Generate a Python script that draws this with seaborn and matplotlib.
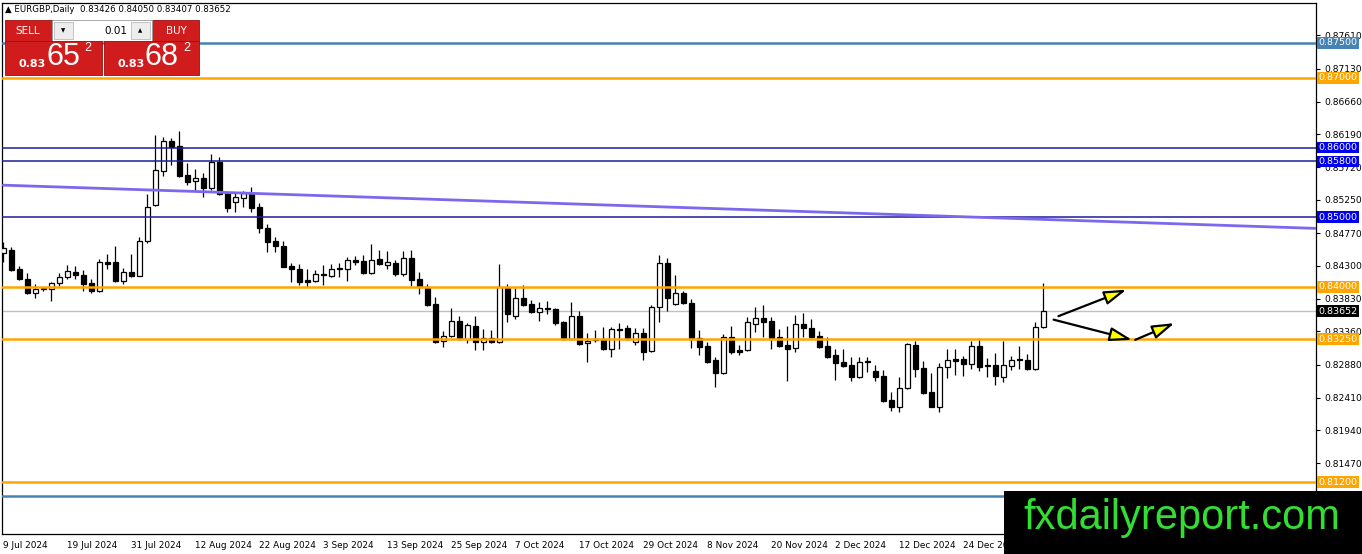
import matplotlib
matplotlib.use("Agg")
import matplotlib.pyplot as plt
from matplotlib.patches import Rectangle
import numpy as np
import pandas as pd
import seaborn as sns

sns.set_theme(style="white")
plt.rcParams['font.family'] = ['DejaVu Sans']

# EURGBP daily bars, 9 Jul 2024 .. 7 Jan 2025
opens = [0.8449, 0.8453, 0.8426, 0.8411, 0.8391, 0.8397, 0.8397, 0.8406, 0.8414, 0.8421,
         0.8417, 0.8406, 0.8394, 0.8436, 0.8436, 0.8408, 0.8421, 0.8416, 0.8466, 0.8518,
         0.8566, 0.8609, 0.8602, 0.8561, 0.8552, 0.8556, 0.8542, 0.8579, 0.8535, 0.8522,
         0.8528, 0.8535, 0.8515, 0.8485, 0.8466, 0.8459, 0.8430, 0.8426, 0.8410, 0.8408,
         0.8418, 0.8416, 0.8426, 0.8426, 0.8439, 0.8437, 0.8420, 0.8440, 0.8431, 0.8434,
         0.8418, 0.8442, 0.8411, 0.8400, 0.8375, 0.8322, 0.8330, 0.8351, 0.8325, 0.8344,
         0.8321, 0.8327, 0.8321, 0.8398, 0.8358, 0.8384, 0.8375, 0.8364, 0.8370, 0.8368,
         0.8350, 0.8325, 0.8358, 0.8320, 0.8324, 0.8325, 0.8311, 0.8340, 0.8341, 0.8321,
         0.8334, 0.8308, 0.8371, 0.8434, 0.8375, 0.8391, 0.8377, 0.8327, 0.8315, 0.8295,
         0.8276, 0.8328, 0.8309, 0.8309, 0.8347, 0.8355, 0.8351, 0.8328, 0.8317, 0.8312,
         0.8347, 0.8341, 0.8330, 0.8315, 0.8302, 0.8292, 0.8288, 0.8271, 0.8292, 0.8279,
         0.8272, 0.8238, 0.8228, 0.8255, 0.8317, 0.8284, 0.8249, 0.8228, 0.8285, 0.8297,
         0.8297, 0.8289, 0.8315, 0.8286, 0.8288, 0.8271, 0.8286, 0.8295, 0.8295, 0.8282,
         0.83426]
highs = [0.8464, 0.8457, 0.8430, 0.8420, 0.8404, 0.8400, 0.8407, 0.8420, 0.8431, 0.8430,
         0.8424, 0.8411, 0.8440, 0.8447, 0.8459, 0.8427, 0.8447, 0.8472, 0.8533, 0.8618,
         0.8615, 0.8614, 0.8624, 0.8578, 0.8569, 0.8563, 0.8591, 0.8586, 0.8536, 0.8535,
         0.8538, 0.8543, 0.8520, 0.8490, 0.8472, 0.8466, 0.8434, 0.8433, 0.8426, 0.8424,
         0.8431, 0.8433, 0.8434, 0.8443, 0.8444, 0.8446, 0.8462, 0.8453, 0.8452, 0.8439,
         0.8452, 0.8453, 0.8421, 0.8404, 0.8386, 0.8337, 0.8370, 0.8358, 0.8348, 0.8358,
         0.8340, 0.8338, 0.8433, 0.8404, 0.8398, 0.8403, 0.8381, 0.8378, 0.8380, 0.8370,
         0.8351, 0.8378, 0.8365, 0.8334, 0.8338, 0.8342, 0.8342, 0.8348, 0.8345, 0.8341,
         0.8341, 0.8374, 0.8446, 0.8442, 0.8417, 0.8394, 0.8383, 0.8338, 0.8321, 0.8299,
         0.8332, 0.8344, 0.8317, 0.8357, 0.8371, 0.8374, 0.8357, 0.8340, 0.8344, 0.8360,
         0.8363, 0.8354, 0.8337, 0.8328, 0.8311, 0.8311, 0.8299, 0.8299, 0.8299, 0.8288,
         0.8281, 0.8249, 0.8271, 0.8320, 0.8322, 0.8294, 0.8276, 0.8291, 0.8311, 0.8311,
         0.8301, 0.8322, 0.8327, 0.8298, 0.8305, 0.8322, 0.8301, 0.8315, 0.8304, 0.8350,
         0.84050]
lows = [0.8436, 0.8423, 0.8410, 0.8390, 0.8384, 0.8394, 0.8380, 0.8401, 0.8411, 0.8411,
        0.8394, 0.8391, 0.8393, 0.8426, 0.8407, 0.8404, 0.8414, 0.8415, 0.8463, 0.8516,
        0.8559, 0.8575, 0.8558, 0.8546, 0.8538, 0.8529, 0.8539, 0.8532, 0.8508, 0.8508,
        0.8515, 0.8508, 0.8477, 0.8450, 0.8450, 0.8428, 0.8407, 0.8403, 0.8400, 0.8407,
        0.8403, 0.8414, 0.8414, 0.8408, 0.8431, 0.8419, 0.8418, 0.8431, 0.8426, 0.8416,
        0.8416, 0.8401, 0.8390, 0.8373, 0.8320, 0.8314, 0.8328, 0.8324, 0.8320, 0.8309,
        0.8309, 0.8320, 0.8320, 0.8350, 0.8354, 0.8373, 0.8363, 0.8351, 0.8361, 0.8345,
        0.8324, 0.8324, 0.8317, 0.8292, 0.8321, 0.8309, 0.8299, 0.8311, 0.8324, 0.8317,
        0.8295, 0.8307, 0.8350, 0.8365, 0.8374, 0.8375, 0.8312, 0.8302, 0.8291, 0.8256,
        0.8275, 0.8304, 0.8302, 0.8308, 0.8335, 0.8328, 0.8311, 0.8314, 0.8265, 0.8307,
        0.8328, 0.8327, 0.8312, 0.8298, 0.8266, 0.8285, 0.8265, 0.8269, 0.8278, 0.8265,
        0.8235, 0.8222, 0.8220, 0.8253, 0.8271, 0.8246, 0.8227, 0.8220, 0.8269, 0.8274,
        0.8272, 0.8282, 0.8279, 0.8271, 0.8259, 0.8263, 0.8281, 0.8282, 0.8281, 0.8281,
        0.83407]
closes = [0.8456, 0.8424, 0.8411, 0.8391, 0.8397, 0.8398, 0.8406, 0.8414, 0.8423, 0.8417,
          0.8404, 0.8394, 0.8436, 0.8433, 0.8408, 0.8421, 0.8416, 0.8466, 0.8515, 0.8568,
          0.8609, 0.8601, 0.8559, 0.8551, 0.8556, 0.8542, 0.8579, 0.8533, 0.8513, 0.8529,
          0.8535, 0.8513, 0.8485, 0.8464, 0.8459, 0.8429, 0.8426, 0.8407, 0.8407, 0.8418,
          0.8417, 0.8426, 0.8427, 0.8439, 0.8436, 0.8420, 0.8439, 0.8433, 0.8436, 0.8418,
          0.8442, 0.8410, 0.8400, 0.8374, 0.8321, 0.8330, 0.8351, 0.8325, 0.8345, 0.8321,
          0.8327, 0.8321, 0.8400, 0.8361, 0.8384, 0.8374, 0.8364, 0.8370, 0.8368, 0.8348,
          0.8325, 0.8358, 0.8318, 0.8322, 0.8325, 0.8311, 0.8340, 0.8338, 0.8325, 0.8334,
          0.8307, 0.8371, 0.8434, 0.8384, 0.8391, 0.8377, 0.8325, 0.8314, 0.8292, 0.8276,
          0.8328, 0.8307, 0.8307, 0.8350, 0.8355, 0.8350, 0.8327, 0.8315, 0.8311, 0.8347,
          0.8341, 0.8328, 0.8314, 0.8299, 0.8291, 0.8286, 0.8271, 0.8292, 0.8294, 0.8271,
          0.8236, 0.8228, 0.8255, 0.8318, 0.8282, 0.8248, 0.8228, 0.8285, 0.8295, 0.8294,
          0.8289, 0.8315, 0.8285, 0.8288, 0.8272, 0.8288, 0.8295, 0.8297, 0.8282, 0.8342,
          0.83652]

dates = pd.bdate_range("2024-07-09", periods=len(closes))

# horizontal levels drawn on the chart
levels = [0.8750, 0.8700, 0.8600, 0.8580, 0.8500, 0.8400, 0.8325, 0.8120, 0.8100]
level_kind = ["steel", "orange", "blue", "blue", "blue", "orange", "orange", "orange", "steel"]
level_labeled = [True, True, True, True, True, True, True, True, False]

# trend line (bar index, price)
trend_bars = [0, 164]
trend_prices = [0.8546, 0.8484]

bid = 0.83652
ask = 0.83682
y_ticks = [0.87610, 0.87130, 0.86660, 0.86190, 0.85720, 0.85250, 0.84770,
           0.84300, 0.83830, 0.83360, 0.82880, 0.82410, 0.81940, 0.81470]

line_col = {"steel": "#4682B4", "orange": "#FFA500", "blue": "#1C1C9C"}
box_col = {"steel": "#4682B4", "orange": "#FFA500", "blue": "#0000EE"}

W, H = 1362, 554
fig = plt.figure(figsize=(W / 100, H / 100), dpi=100)
fig.patch.set_facecolor("white")
ax = fig.add_axes([2 / W, 20 / H, 1314 / W, 531 / H])
ax.set_facecolor("white")

df = pd.DataFrame({"date": dates, "open": opens, "high": highs,
                   "low": lows, "close": closes})
df["i"] = np.arange(len(df))
bull = df["close"] >= df["open"]

# wicks, then bodies
ax.vlines(df["i"], df["low"], df["high"], color="black", lw=0.9, zorder=2)
body_lo = np.minimum(df["open"], df["close"])
body_h = np.abs(df["close"] - df["open"])
ax.bar(df["i"][bull], body_h[bull], bottom=body_lo[bull], width=0.62,
       color="white", edgecolor="black", linewidth=0.9, zorder=3)
ax.bar(df["i"][~bull], body_h[~bull], bottom=body_lo[~bull], width=0.62,
       color="black", edgecolor="black", linewidth=0.9, zorder=3)

# levels
for lv, k in zip(levels, level_kind):
    ax.axhline(lv, color=line_col[k], lw=1.8 if k != "blue" else 1.1, zorder=4)
ax.axhline(bid, color="#C0C0C0", lw=1.0, zorder=1)

sns.lineplot(x=trend_bars, y=trend_prices, ax=ax, color="#7B68EE", lw=2.0, zorder=4)

# arrows
arrow_kw = dict(arrowstyle="-|>,head_length=1.35,head_width=0.42", fc="#FFFF00",
                ec="black", lw=1.6, mutation_scale=10, shrinkA=0, shrinkB=0)
ax.annotate("", xy=(140.4, 0.8396), xytext=(131.9, 0.8358), arrowprops=arrow_kw, zorder=6)
ax.annotate("", xy=(141.1, 0.8324), xytext=(131.3, 0.8353), arrowprops=arrow_kw, zorder=6)
ax.annotate("", xy=(146.4, 0.8348), xytext=(141.5, 0.8324), arrowprops=arrow_kw, zorder=6)

ax.set_xlim(-0.16, 164.1)
ax.set_ylim(0.80454, 0.88074)

# axes styling
for s in ax.spines.values():
    s.set_color("black")
    s.set_linewidth(0.9)
ax.yaxis.tick_right()
ax.set_yticks(y_ticks)
ax.set_yticklabels([f"{v:.5f}" for v in y_ticks], fontsize=6.6, color="black")
ticks_x = list(range(0, 121, 8))
ax.set_xticks(ticks_x)
ax.set_xticklabels([f"{dates[t].day} {dates[t]:%b %Y}" for t in ticks_x],
                   fontsize=6.4, color="black", ha="left")
ax.tick_params(axis="both", direction="out", length=3, width=0.8, color="black", pad=2)
ax.tick_params(axis="y", pad=3)
ax.grid(False)

# price labels on the right scale
ytr = ax.get_yaxis_transform()
for lv, k, lab in zip(levels, level_kind, level_labeled):
    if lab:
        ax.text(1.0017, lv, f"{lv:.5f}", transform=ytr, fontsize=6.8, color="white",
                va="center", ha="left", clip_on=False, zorder=10,
                bbox=dict(boxstyle="square,pad=0.14", fc=box_col[k], ec="none"))
ax.text(1.0017, bid, f"{bid:.5f}", transform=ytr, fontsize=6.8, color="white",
        va="center", ha="left", clip_on=False, zorder=10,
        bbox=dict(boxstyle="square,pad=0.14", fc="black", ec="none"))

# overlay in pixel coordinates: trade panel, header, watermark
ov = fig.add_axes([0, 0, 1, 1], zorder=20)
ov.set_xlim(0, W)
ov.set_ylim(H, 0)
ov.axis("off")
ov.patch.set_alpha(0)

ov.text(5, 10, f"\u25B2 EURGBP,Daily  {opens[-1]:.5f} {highs[-1]:.5f} {lows[-1]:.5f} {closes[-1]:.5f}",
        fontsize=6.2, va="center", ha="left", color="black")

red = "#D01C1C"
dark = "#9E0E0E"
ov.add_patch(Rectangle((5, 20), 47, 21, fc=red, ec=dark, lw=0.6))
ov.add_patch(Rectangle((152, 20), 47, 21, fc=red, ec=dark, lw=0.6))
ov.add_patch(Rectangle((52, 20), 100, 21, fc="white", ec="#9A9A9A", lw=0.6))
ov.add_patch(Rectangle((54, 22), 19, 17, fc="#EDEDED", ec="#B0B0B0", lw=0.5))
ov.add_patch(Rectangle((131, 22), 19, 17, fc="#EDEDED", ec="#B0B0B0", lw=0.5))
ov.text(28, 30.5, "SELL", fontsize=7.5, color="white", ha="center", va="center")
ov.text(176, 30.5, "BUY", fontsize=7.5, color="white", ha="center", va="center")
ov.text(63.5, 30.5, "\u25BC", fontsize=4, color="black", ha="center", va="center")
ov.text(140.5, 30.5, "\u25B2", fontsize=4, color="black", ha="center", va="center")
ov.text(127, 30.5, "0.01", fontsize=7.5, color="black", ha="right", va="center")

ov.add_patch(Rectangle((5, 41), 97, 34, fc=red, ec=dark, lw=0.6))
ov.add_patch(Rectangle((104, 41), 95, 34, fc=red, ec=dark, lw=0.6))
for x0, price in ((5, bid), (104, ask)):
    s = f"{price:.5f}"
    ov.text(x0 + 27, 64, s[:4], fontsize=8, fontweight="bold", color="white",
            ha="center", va="center")
    ov.text(x0 + 58, 57, s[4:6], fontsize=22, color="white", ha="center",
            va="center", family=["Liberation Sans"])
    ov.text(x0 + 83, 48, s[6], fontsize=9, color="white", ha="center",
            va="center", family=["Liberation Sans"])

ov.add_patch(Rectangle((1004, 491), W - 1004, H - 491, fc="black", ec="none"))
ov.text(1182, 518, "fxdailyreport.com", fontsize=30, color="#33DD33",
        ha="center", va="center", family=["Liberation Sans"])

fig.savefig("out.png", dpi=100)
